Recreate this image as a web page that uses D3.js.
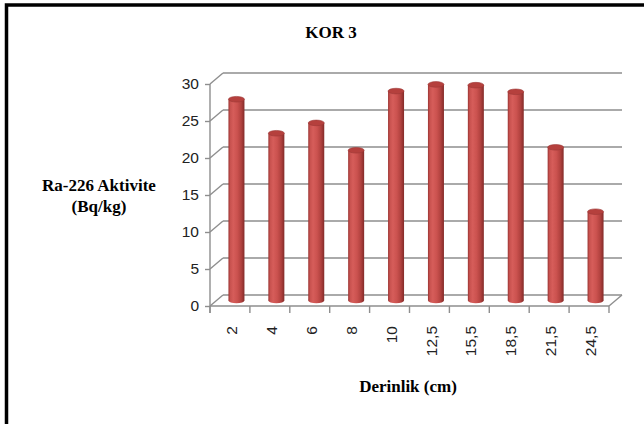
<!DOCTYPE html>
<html>
<head>
<meta charset="utf-8">
<script src="https://cdn.jsdelivr.net/npm/d3@7"></script>
<style>
  html, body { margin: 0; padding: 0; background: #fff; }
  svg { display: block; }
</style>
</head>
<body>
<svg id="chart" width="644" height="424"></svg>
<script>
// Ra-226 activity by depth, core KOR 3
const depths = ["2", "4", "6", "8", "10", "12,5", "15,5", "18,5", "21,5", "24,5"];
const activity = [27.2, 22.6, 24.0, 20.3, 28.3, 29.2, 29.1, 28.2, 20.7, 12.0];
const yTicks = [0, 5, 10, 15, 20, 25, 30];

const svg = d3.select("#chart");

// Outer frame
svg.append("rect")
  .attr("x", 6.5).attr("y", 5).attr("width", 660).attr("height", 440)
  .attr("fill", "#fff").attr("stroke", "#000").attr("stroke-width", 3.5);

// Plot geometry (front plane) and depth offset of the back wall
const left = 210, right = 609, floorY = 306, topY = 84;
const depth = { dx: 13, dy: -11 };
const mid = { dx: 6.5, dy: -5.5 };

const x = d3.scaleBand().domain(depths).range([left, right]).padding(0);
const y = d3.scaleLinear().domain([0, 30]).range([floorY, topY]);

const gridColor = "#8e8e8e";

// Back wall gridlines
svg.append("g").selectAll("line").data(yTicks).join("line")
  .attr("x1", left + depth.dx).attr("x2", right + depth.dx)
  .attr("y1", d => y(d) + depth.dy).attr("y2", d => y(d) + depth.dy)
  .attr("stroke", gridColor).attr("stroke-width", 1.6);

// Side wall gridlines (front axis to back wall)
svg.append("g").selectAll("line").data(yTicks).join("line")
  .attr("x1", left).attr("x2", left + depth.dx)
  .attr("y1", d => y(d)).attr("y2", d => y(d) + depth.dy)
  .attr("stroke", gridColor).attr("stroke-width", 1.4);

// Floor: front edge and right edge
svg.append("line")
  .attr("x1", left).attr("x2", right).attr("y1", floorY).attr("y2", floorY)
  .attr("stroke", gridColor).attr("stroke-width", 1.4);
svg.append("line")
  .attr("x1", right).attr("x2", right + depth.dx)
  .attr("y1", floorY).attr("y2", floorY + depth.dy)
  .attr("stroke", gridColor).attr("stroke-width", 1.4);

// Cylinder shading
const defs = svg.append("defs");
const grad = defs.append("linearGradient").attr("id", "cyl")
  .attr("x1", "0%").attr("x2", "100%").attr("y1", "0%").attr("y2", "0%");
[[0, "#9a3432"], [0.12, "#c8524f"], [0.3, "#d65d5a"], [0.55, "#cb524f"],
 [0.8, "#b0413e"], [1, "#832b29"]].forEach(([o, c]) =>
  grad.append("stop").attr("offset", o).attr("stop-color", c));

const barW = 16, ry = 2.8;
const bars = svg.append("g").selectAll("g").data(depths).join("g");
bars.each(function (d, i) {
  const g = d3.select(this);
  const cx = x(d) + x.bandwidth() / 2 + mid.dx;
  const base = y(0) + mid.dy;
  const top = y(activity[i]) + mid.dy;
  // bottom rounded cap
  g.append("ellipse").attr("cx", cx).attr("cy", base).attr("rx", barW / 2).attr("ry", ry)
    .attr("fill", "url(#cyl)");
  // body
  g.append("rect").attr("x", cx - barW / 2).attr("y", top).attr("width", barW)
    .attr("height", base - top).attr("fill", "url(#cyl)");
  // top face
  g.append("ellipse").attr("cx", cx).attr("cy", top).attr("rx", barW / 2).attr("ry", ry)
    .attr("fill", "#b5403d").attr("stroke", "#9c3836").attr("stroke-width", 0.6);
});

// Value axis
const yAxis = svg.append("g").attr("transform", `translate(${left},0)`)
  .call(d3.axisLeft(y).tickValues(yTicks).tickSize(5).tickPadding(6));
yAxis.select(".domain").remove();
yAxis.selectAll(".tick line").attr("stroke", gridColor).attr("stroke-width", 1.4);
yAxis.selectAll(".tick text")
  .attr("font-family", "'Liberation Sans', Arial, sans-serif")
  .attr("font-size", 15.5).attr("fill", "#222");
svg.append("line").attr("x1", left).attr("x2", left).attr("y1", topY).attr("y2", floorY + 7)
  .attr("stroke", gridColor).attr("stroke-width", 1.4);

// Category axis: boundary ticks and rotated labels
const edges = depths.map(d => x(d)).concat([right]);
svg.append("g").selectAll("line").data(edges).join("line")
  .attr("x1", d => d).attr("x2", d => d).attr("y1", floorY).attr("y2", floorY + 7)
  .attr("stroke", gridColor).attr("stroke-width", 1.4);

const xAxis = svg.append("g").attr("transform", `translate(0,${floorY})`)
  .call(d3.axisBottom(x).tickSize(0));
xAxis.select(".domain").remove();
xAxis.selectAll(".tick text")
  .attr("font-family", "'Liberation Sans', Arial, sans-serif")
  .attr("font-size", 15.5).attr("fill", "#222")
  .attr("text-anchor", "end")
  .attr("transform", "translate(1.5,20) rotate(-90)")
  .attr("x", 0).attr("y", 0).attr("dy", "0.36em");

// Titles
const serif = "'Liberation Serif', 'Times New Roman', serif";
svg.append("text").attr("x", 331).attr("y", 38).attr("text-anchor", "middle")
  .attr("font-family", serif).attr("font-weight", "bold").attr("font-size", 17)
  .text("KOR 3");
const yTitle = svg.append("text").attr("text-anchor", "middle")
  .attr("font-family", serif).attr("font-weight", "bold").attr("font-size", 17);
yTitle.append("tspan").attr("x", 99).attr("y", 191).text("Ra-226 Aktivite");
yTitle.append("tspan").attr("x", 99).attr("y", 212).text("(Bq/kg)");
svg.append("text").attr("x", 408).attr("y", 392).attr("text-anchor", "middle")
  .attr("font-family", serif).attr("font-weight", "bold").attr("font-size", 17)
  .text("Derinlik (cm)");
</script>
</body>
</html>
